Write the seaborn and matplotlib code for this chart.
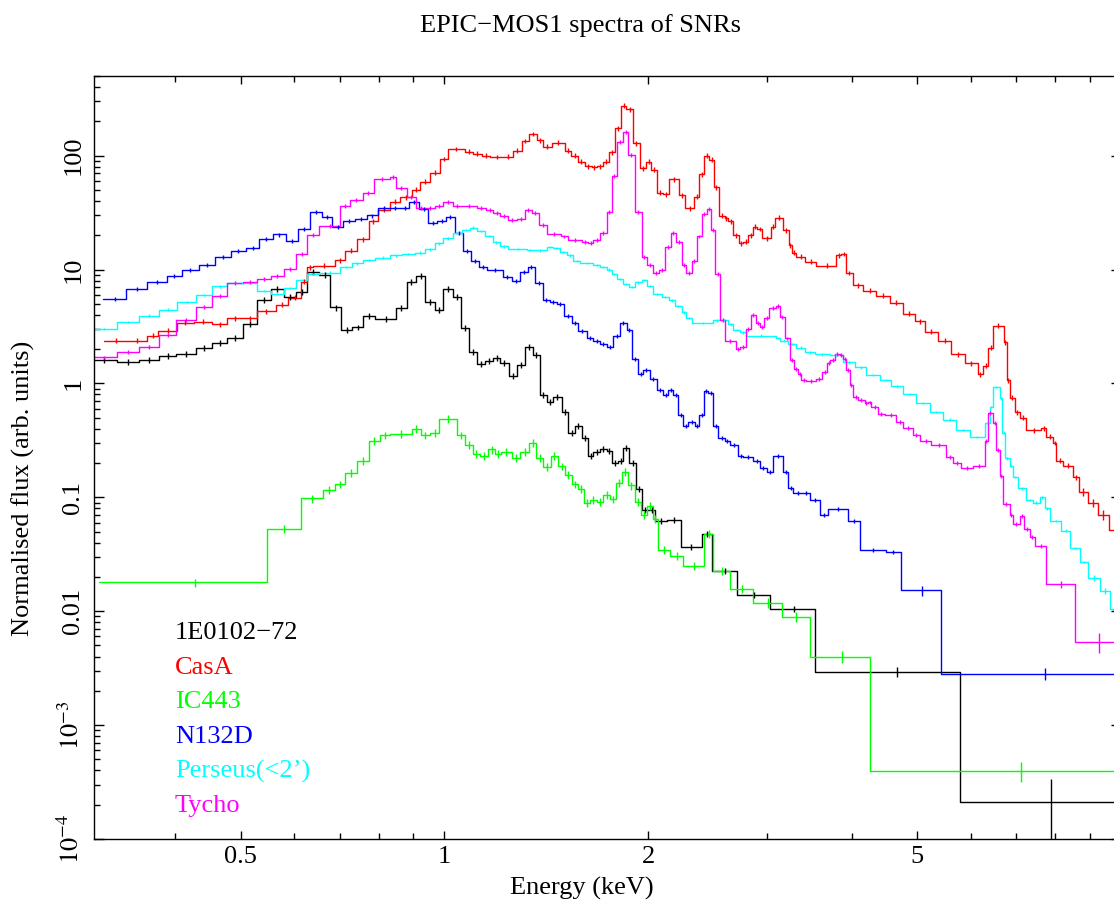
import numpy as np
import pandas as pd
import matplotlib
matplotlib.use("Agg")
import matplotlib.pyplot as plt
import seaborn as sns
from matplotlib.ticker import FixedLocator, FixedFormatter, LogLocator, NullFormatter

# bin edges (keV) and normalised flux per bin
e0102_edges = [0.300, 0.3286, 0.3537, 0.3787, 0.4012, 0.4294, 0.4539, 0.4777, 0.5039, 0.5279,
               0.5537, 0.5793, 0.6028, 0.6271, 0.6533, 0.6775, 0.7035, 0.7302, 0.7586, 0.7894,
               0.8481, 0.8796, 0.9076, 0.9368, 0.9672, 0.9959, 1.0283, 1.0588, 1.0881, 1.1180,
               1.1488, 1.1806, 1.2078, 1.2441, 1.2784, 1.3135, 1.3498, 1.3838, 1.4156, 1.4478,
               1.4897, 1.5237, 1.5589, 1.5948, 1.6311, 1.6590, 1.6972, 1.7363, 1.7697, 1.8063,
               1.8374, 1.8752, 1.9182, 1.9558, 2.0003, 2.0465, 2.1297, 2.2338, 2.3993, 2.4875,
               2.7026, 3.0268, 3.5352, 5.7806, 10.0]
e0102_flux = [1.61, 1.55, 1.61, 1.75, 1.80, 2.03, 2.26, 2.52, 3.32, 5.41,
              6.8, 5.7, 6.3, 9.5, 8.9, 4.64, 2.95, 3.1, 3.9, 3.7,
              4.58, 7.8, 8.85, 5.2, 4.4, 6.8, 5.72, 3.08, 1.9, 1.49,
              1.57, 1.68, 1.51, 1.16, 1.44, 2.1, 1.77, 0.79, 0.69, 0.76,
              0.565, 0.37, 0.42, 0.33, 0.23, 0.25, 0.266, 0.254, 0.20, 0.21,
              0.27, 0.20, 0.118, 0.077, 0.077, 0.0616, 0.063, 0.0365, 0.048, 0.0225,
              0.0139, 0.0105, 0.00294, 2.1e-4]

casa_edges = [0.3143, 0.3393, 0.3632, 0.3778, 0.4021, 0.4265, 0.4529, 0.4776, 0.5031, 0.5280,
              0.5633, 0.5878, 0.6132, 0.6270, 0.6387, 0.6890, 0.7129, 0.7418, 0.7727, 0.7985,
              0.8309, 0.8596, 0.8945, 0.9201, 0.9519, 0.9848, 1.012, 1.072, 1.102, 1.136,
              1.167, 1.224, 1.262, 1.302, 1.333, 1.370, 1.398, 1.441, 1.507, 1.541,
              1.575, 1.613, 1.650, 1.680, 1.715, 1.750, 1.786, 1.823, 1.858, 1.900,
              1.944, 1.984, 2.023, 2.062, 2.105, 2.146, 2.223, 2.267, 2.339, 2.379,
              2.420, 2.461, 2.503, 2.544, 2.596, 2.626, 2.671, 2.723, 2.764, 2.811,
              2.859, 2.898, 2.952, 3.036, 3.085, 3.166, 3.228, 3.264, 3.314, 3.409,
              3.547, 3.797, 3.862, 3.919, 4.018, 4.157, 4.350, 4.551, 4.762, 4.956,
              5.127, 5.359, 5.614, 5.875, 6.146, 6.252, 6.359, 6.469, 6.709, 6.784,
              6.846, 6.964, 7.084, 7.247, 7.627, 7.757, 7.933, 8.025, 8.208, 8.491,
              8.666, 8.936, 9.245, 9.597, 10.0]
casa_flux = [2.38, 2.37, 2.63, 2.90, 3.42, 3.48, 3.30, 3.72, 3.73, 4.3,
             4.9, 5.66, 7.8, 10.5, 10.8, 12.0, 14.6, 18.5, 26.4, 33.4,
             39.3, 43, 50, 59, 71, 93.5, 114.5, 108, 103.5, 99.4,
             97.4, 98, 110, 134.6, 155, 137, 120, 130, 110, 100,
             88.6, 81, 79, 81, 88.6, 107, 174, 275, 255, 128,
             77.5, 88.6, 75, 47.3, 46, 62, 45, 34.4, 43.6, 69,
             99.4, 91.7, 52.8, 29.6, 28.2, 26.4, 20.1, 17.1, 17.6, 20.1,
             23.8, 22.7, 18.8, 23.8, 28.6, 22.2, 16.4, 14.1, 12.9, 11.7,
             10.8, 13.4, 13.7, 9.33, 7.3, 6.5, 5.9, 5.1, 4.1, 3.5,
             2.85, 2.37, 1.8, 1.5, 1.2, 1.43, 2.05, 3.2, 2.3, 1.07,
             0.75, 0.56, 0.5, 0.39, 0.405, 0.34, 0.30, 0.21, 0.19, 0.15,
             0.112, 0.09, 0.0706, 0.0513]

ic443_edges = [0.3087, 0.5473, 0.6132, 0.6622, 0.6890, 0.7129, 0.7433, 0.7735, 0.8029, 0.8309,
               0.8945, 0.9222, 0.9519, 0.9825, 1.0424, 1.0722, 1.1007, 1.1283, 1.1606, 1.1875,
               1.2107, 1.2568, 1.2926, 1.3343, 1.3650, 1.3994, 1.4350, 1.4726, 1.5066, 1.5414,
               1.5765, 1.6074, 1.6405, 1.6783, 1.7164, 1.7560, 1.7922, 1.8274, 1.8688, 1.9117,
               1.9492, 1.9894, 2.0305, 2.0696, 2.1537, 2.2537, 2.4181, 2.4960, 2.6418, 2.8597,
               3.1497, 3.4756, 4.2528, 10.0]
ic443_flux = [0.0179, 0.0529, 0.0976, 0.117, 0.13, 0.163, 0.21, 0.315, 0.35, 0.36,
              0.40, 0.35, 0.37, 0.49, 0.35, 0.29, 0.24, 0.23, 0.263, 0.24,
              0.25, 0.22, 0.25, 0.30, 0.22, 0.185, 0.23, 0.187, 0.157, 0.13,
              0.118, 0.09, 0.095, 0.091, 0.105, 0.096, 0.134, 0.168, 0.127, 0.091,
              0.07, 0.084, 0.065, 0.0344, 0.0307, 0.025, 0.0479, 0.0227, 0.0158, 0.0118,
              0.0089, 0.0040, 3.96e-4]

n132d_edges = [0.3133, 0.3382, 0.3639, 0.3887, 0.4091, 0.4334, 0.4581, 0.4832, 0.5085, 0.5326,
               0.5574, 0.5826, 0.6082, 0.6329, 0.6586, 0.6828, 0.7088, 0.7375, 0.7675, 0.7983,
               0.8309, 0.8597, 0.8872, 0.9178, 0.9463, 0.9758, 1.0051, 1.0364, 1.0639, 1.0943,
               1.1256, 1.1567, 1.2214, 1.2568, 1.2926, 1.3270, 1.3604, 1.3965, 1.4316, 1.4646,
               1.5014, 1.5414, 1.5749, 1.6222, 1.6590, 1.6972, 1.7363, 1.7758, 1.8168, 1.8587,
               1.8923, 1.9333, 1.9665, 2.0119, 2.0584, 2.1052, 2.1413, 2.1782, 2.2156, 2.2537,
               2.2923, 2.3452, 2.3798, 2.4181, 2.4538, 2.4960, 2.5389, 2.5973, 2.6418, 2.7173,
               2.7640, 2.8597, 2.9256, 2.9930, 3.0610, 3.1660, 3.2203, 3.2754, 3.3887, 3.4674,
               3.5873, 3.6900, 3.9502, 4.1204, 4.4907, 4.7258, 5.4263, 10.0]
n132d_flux = [5.55, 6.7, 7.7, 8.7, 10.0, 11.0, 12.8, 14.5, 15.5, 18.6,
              20.3, 17.7, 22.6, 31.8, 28.7, 23.5, 26.8, 27.8, 29.8, 34.4,
              34.4, 34.4, 39.5, 34, 25.8, 26.9, 29.2, 21.1, 14.6, 11.8,
              10.5, 9.85, 8.6, 8.0, 9.6, 10.6, 7.6, 5.4, 5.2, 5.0,
              3.9, 3.38, 2.9, 2.5, 2.35, 2.22, 2.1, 2.6, 3.38, 2.95,
              1.63, 1.22, 1.3, 1.1, 0.87, 0.79, 0.87, 0.79, 0.53, 0.425,
              0.46, 0.42, 0.53, 0.86, 0.82, 0.42, 0.33, 0.31, 0.29, 0.23,
              0.225, 0.21, 0.18, 0.167, 0.232, 0.168, 0.12, 0.109, 0.11, 0.095,
              0.0706, 0.079, 0.062, 0.0344, 0.033, 0.0152, 0.00281]

perseus_edges = [0.300, 0.3286, 0.3537, 0.3787, 0.4030, 0.4294, 0.4539, 0.4777, 0.5279, 0.5537,
                 0.5793, 0.6028, 0.6271, 0.6533, 0.7011, 0.7293, 0.7586, 0.7894, 0.8309, 0.8647,
                 0.9045, 0.9357, 0.9682, 0.9959, 1.0283, 1.0603, 1.0907, 1.1157, 1.1476, 1.1782,
                 1.2078, 1.2424, 1.3225, 1.3525, 1.4156, 1.4478, 1.4811, 1.5154, 1.5498, 1.5856,
                 1.6590, 1.6972, 1.7363, 1.7661, 1.8002, 1.8374, 1.8752, 1.9117, 1.9558, 1.9894,
                 2.0347, 2.0937, 2.1486, 2.1908, 2.2414, 2.2745, 2.3190, 2.4960, 2.5536, 2.6266,
                 2.6715, 2.7331, 2.7895, 3.0892, 3.1315, 3.2203, 3.3135, 3.4083, 3.5267, 3.7114,
                 3.8797, 4.0413, 4.2054, 4.4000, 4.5786, 4.7632, 4.9838, 5.2148, 5.4559, 5.7103,
                 5.9746, 6.2874, 6.3953, 6.4675, 6.6166, 6.6777, 6.7301, 6.8456, 6.9229, 7.0416,
                 7.2458, 7.4103, 7.5811, 7.7110, 7.8434, 8.1618, 8.3955, 8.6858, 8.9341, 9.2967,
                 9.6168, 10.0]
perseus_flux = [2.99, 3.46, 3.94, 4.45, 5.2, 6.0, 7.1, 7.6, 6.5, 6.1,
                6.9, 8.1, 9.1, 9.4, 10.5, 11.3, 12.1, 12.7, 13.3, 13.7,
                14.1, 15.0, 17.0, 18.8, 20.9, 22.2, 23.3, 21.7, 19.7, 17.3,
                16.0, 15.2, 14.9, 14.7, 15.8, 15.4, 14.3, 13.3, 11.9, 11.4,
                11.0, 10.5, 10.0, 9.1, 8.3, 7.5, 7.0, 7.7, 8.1, 7.2,
                6.1, 5.75, 5.35, 4.8, 4.2, 3.75, 3.4, 3.57, 3.6, 3.3,
                2.96, 2.8, 2.63, 2.5, 2.37, 2.23, 2.06, 1.87, 1.8, 1.77,
                1.53, 1.38, 1.19, 1.07, 0.94, 0.81, 0.67, 0.56, 0.48, 0.39,
                0.34, 0.45, 0.62, 0.93, 0.74, 0.37, 0.22, 0.19, 0.15, 0.12,
                0.095, 0.09, 0.1, 0.08, 0.062, 0.051, 0.036, 0.027, 0.0195, 0.015,
                0.0105]

tycho_edges = [0.300, 0.3286, 0.3537, 0.3787, 0.4012, 0.4294, 0.4539, 0.4777, 0.5039, 0.5279,
               0.5537, 0.5793, 0.6028, 0.6271, 0.6533, 0.7011, 0.7251, 0.7571, 0.7867, 0.8309,
               0.8481, 0.8796, 0.9076, 0.9390, 0.9682, 0.9959, 1.0283, 1.0603, 1.1157, 1.1516,
               1.1806, 1.2078, 1.2424, 1.2784, 1.3148, 1.3452, 1.3805, 1.4156, 1.4846, 1.5237,
               1.5948, 1.6311, 1.6590, 1.6972, 1.7363, 1.7661, 1.8002, 1.8374, 1.8688, 1.9117,
               1.9558, 1.9935, 2.0347, 2.0767, 2.1174, 2.1589, 2.1983, 2.2414, 2.2745, 2.3190,
               2.3588, 2.3993, 2.4405, 2.4765, 2.5148, 2.5579, 2.5973, 2.6961, 2.7331, 2.7895,
               2.8345, 2.8861, 2.9256, 2.9657, 3.0196, 3.0892, 3.1315, 3.1844, 3.2390, 3.2832,
               3.3316, 3.3703, 3.4281, 3.5472, 3.6155, 3.6775, 3.7203, 3.7752, 3.8403, 3.8837,
               3.9288, 3.9731, 4.0180, 4.0869, 4.1812, 4.2283, 4.2775, 4.3747, 4.4755, 4.6571,
               4.7632, 4.9265, 5.0404, 5.2451, 5.5194, 5.6446, 5.8082, 6.0421, 6.2874, 6.3584,
               6.4675, 6.5427, 6.6166, 6.6913, 6.8456, 6.9229, 7.0824, 7.1795, 7.3276, 7.4532,
               7.7558, 8.5394, 10.0]
tycho_flux = [1.69, 1.88, 2.1, 2.64, 3.6, 4.7, 5.9, 7.6, 7.8, 8.2,
              8.7, 10.2, 13.7, 20.1, 24.2, 36.2, 40.8, 46.8, 62.5, 65,
              51.8, 43.6, 34.4, 34.6, 36.2, 39.5, 36.2, 36, 34.6, 33.4,
              31.6, 29.6, 27.3, 28, 33.4, 31.6, 24.4, 20.5, 19.5, 18.3,
              17.6, 17.1, 18.2, 21.1, 31.8, 66.8, 133, 162, 101, 32.2,
              12.8, 11.0, 9.3, 10.0, 15.9, 21.1, 17.6, 11.0, 9.4, 11.8,
              19.5, 31, 33.8, 22.3, 9.2, 3.6, 2.35, 2.0, 2.1, 3.0,
              4.0, 3.4, 3.15, 3.73, 4.58, 4.8, 3.85, 2.48, 1.62, 1.35,
              1.22, 1.07, 1.05, 1.09, 1.27, 1.52, 1.61, 1.8, 1.78, 1.65,
              1.32, 0.96, 0.76, 0.71, 0.67, 0.68, 0.62, 0.54, 0.53, 0.46,
              0.41, 0.35, 0.315, 0.286, 0.228, 0.2, 0.18, 0.187, 0.31, 0.55,
              0.45, 0.26, 0.153, 0.088, 0.07, 0.058, 0.068, 0.053, 0.045, 0.0373,
              0.0172, 0.0054]

sources = ["1E0102\u221272", "CasA", "IC443", "N132D", "Perseus(<2\u2019)", "Tycho"]
colours = ["#000000", "#ff0000", "#00ff00", "#0000ff", "#00ffff", "#ff00ff"]
all_edges = [e0102_edges, casa_edges, ic443_edges, n132d_edges, perseus_edges, tycho_edges]
all_flux = [e0102_flux, casa_flux, ic443_flux, n132d_flux, perseus_flux, tycho_flux]

# fractional 1-sigma error, plus larger errors on the last (sparse) bins
rel_err = [0.06, 0.05, 0.08, 0.04, 0.025, 0.04]
tail_err = [[0.1, 0.6], [0.08, 0.08, 0.1, 0.1], [0.1, 0.1, 0.12, 0.2],
            [0.1, 0.12], [0.06, 0.06, 0.06], [0.08, 0.2]]

y_ticks = [1e-4, 1e-3, 0.01, 0.1, 1, 10, 100]
y_labels = ["$10^{-4}$", "$10^{-3}$", "0.01", "0.1", "1", "10", "100"]
x_ticks = [0.5, 1, 2, 5]
x_labels = ["0.5", "1", "2", "5"]
x_minor = [0.4, 0.6, 0.7, 0.8, 0.9, 3, 4, 6, 7, 8, 9]


def step_table():
    rows = []
    for name, e, f in zip(sources, all_edges, all_flux):
        assert len(e) == len(f) + 1, name
        for i, x in enumerate(e):
            rows.append((name, x, f[min(i, len(f) - 1)]))
    return pd.DataFrame(rows, columns=["source", "energy", "flux"])


def run_plot():
    sns.set_theme(style="ticks")
    plt.rcParams["font.family"] = ["Liberation Serif", "DejaVu Serif"]
    plt.rcParams["mathtext.fontset"] = "stix"
    plt.rcParams["axes.linewidth"] = 1.0
    for key in ["text.color", "axes.labelcolor", "xtick.color", "ytick.color",
                "xtick.labelcolor", "ytick.labelcolor", "axes.edgecolor"]:
        plt.rcParams[key] = "black"

    fs = 19
    fig = plt.figure(figsize=(11.14, 9.07), dpi=100)
    ax = fig.add_axes([0.0844, 0.0750, 0.9219, 0.8412])
    ax.set_xscale("log")
    ax.set_yscale("log")

    steps = step_table()
    sns.lineplot(data=steps, x="energy", y="flux", hue="source", hue_order=sources,
                 palette=dict(zip(sources, colours)), estimator=None, sort=False,
                 drawstyle="steps-post", linewidth=1.0, legend=False, ax=ax)

    for col, e, f, r, t in zip(colours, all_edges, all_flux, rel_err, tail_err):
        e = np.asarray(e)
        f = np.asarray(f)
        err = np.full(len(f), r)
        err[-len(t):] = t
        mid = 0.5 * (e[:-1] + e[1:])
        ax.errorbar(mid, f, yerr=f * err, fmt="none", ecolor=col, elinewidth=1.0, capsize=0)

    ax.set_xlim(0.3035, 10.0)
    ax.set_ylim(1e-4, 500)
    ax.set_xlabel("")
    ax.set_ylabel("")

    ax.xaxis.set_major_locator(FixedLocator(x_ticks))
    ax.xaxis.set_major_formatter(FixedFormatter(x_labels))
    ax.xaxis.set_minor_locator(FixedLocator(x_minor))
    ax.xaxis.set_minor_formatter(NullFormatter())
    ax.yaxis.set_major_locator(FixedLocator(y_ticks))
    ax.yaxis.set_major_formatter(FixedFormatter(y_labels))
    ax.yaxis.set_minor_locator(LogLocator(base=10, subs=np.arange(2, 10), numticks=20))
    ax.yaxis.set_minor_formatter(NullFormatter())

    ax.tick_params(which="both", direction="in", top=True, right=True, color="black",
                   labelcolor="black", labelsize=fs, width=1.0)
    ax.tick_params(axis="y", which="major", length=7.5, pad=7)
    ax.tick_params(axis="y", which="minor", length=4)
    ax.tick_params(axis="x", which="major", length=5.5, pad=5)
    ax.tick_params(axis="x", which="minor", length=4)
    for lab in ax.get_yticklabels():
        lab.set_rotation(90)
        lab.set_va("center")
    for sp in ax.spines.values():
        sp.set_color("black")

    W, H = 1114, 907
    fig.text(581 / W, 1 - 26 / H, "EPIC\u2212MOS1 spectra of SNRs", ha="center", va="center",
             fontsize=fs, color="black")
    fig.text(582 / W, 1 - 888 / H, "Energy (keV)", ha="center", va="center", fontsize=fs, color="black")
    fig.text(23 / W, 1 - 488 / H, "Normalised flux (arb. units)", ha="center", va="center",
             rotation=90, fontsize=fs, color="black")
    for i, (name, col) in enumerate(zip(sources, colours)):
        fig.text(175 / W, 1 - (633 + 34.6 * i) / H, name, color=col, ha="left", va="center", fontsize=fs)

    fig.savefig("out.png", dpi=100, facecolor="white")
    plt.close(fig)


if __name__ == "__main__":
    run_plot()
